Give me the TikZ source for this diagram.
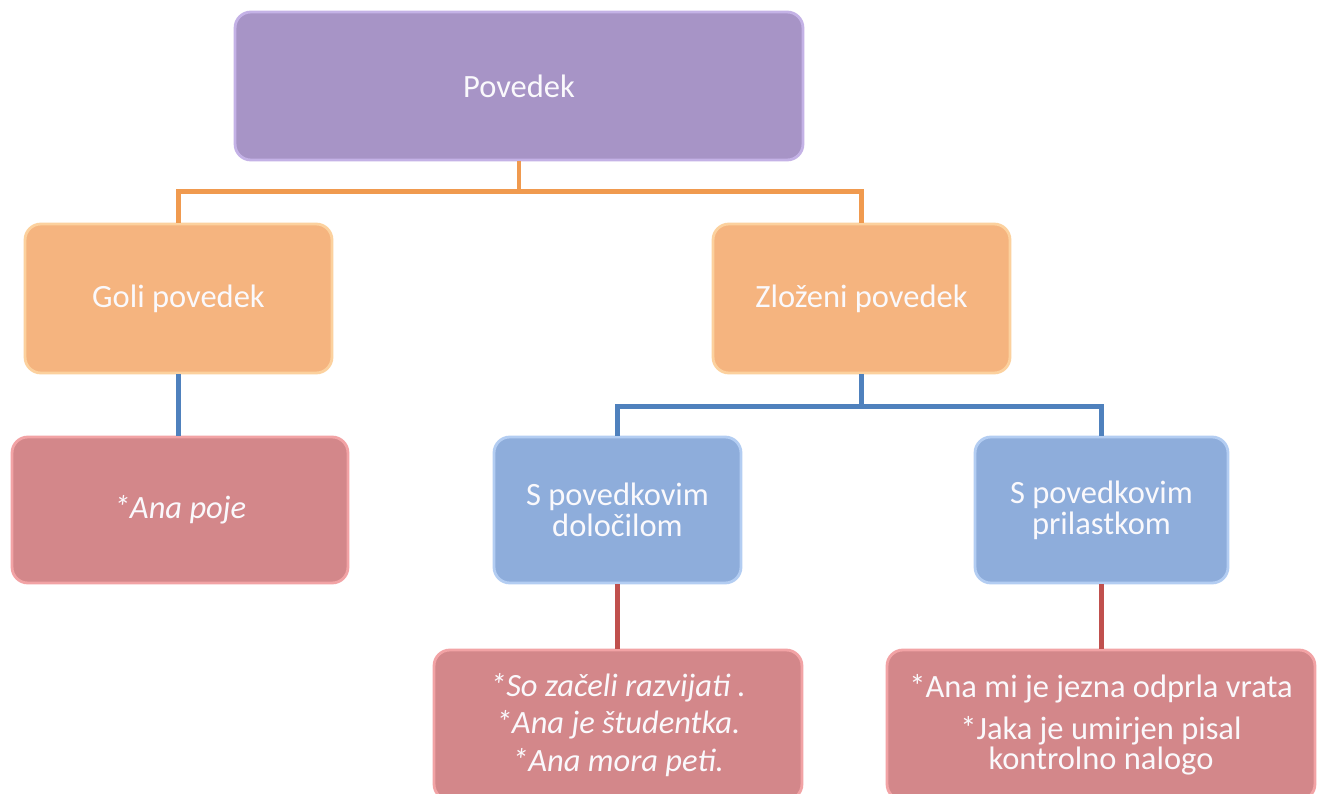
\documentclass[tikz,border=0pt]{standalone}
\usepackage{fontspec}
\setmainfont{Carlito}
\definecolor{purplefill}{HTML}{A794C6}
\definecolor{purpleedge}{HTML}{C4B2E6}
\definecolor{orangefill}{HTML}{F5B47F}
\definecolor{orangeedge}{HTML}{FCD19E}
\definecolor{pinkfill}{HTML}{D3878A}
\definecolor{pinkedge}{HTML}{F2A3A5}
\definecolor{bluefill}{HTML}{8EADDB}
\definecolor{blueedge}{HTML}{B3CDF2}
\definecolor{orangeline}{HTML}{F09A4F}
\definecolor{blueline}{HTML}{4F81BD}
\definecolor{redline}{HTML}{C0504D}
\tikzset{
  card/.style={draw, line width=1.6pt, rounded corners=9pt, align=center, inner sep=0pt,
    font=\fontsize{18.5}{17.5}\selectfont, text=white!94!purplefill},
  topcard/.style={card, fill=purplefill, draw=purpleedge},
  orangecard/.style={card, fill=orangefill, draw=orangeedge, minimum height=2.98cm},
  bluecard/.style={card, fill=bluefill, draw=blueedge, minimum height=2.92cm},
  pinkcard/.style={card, fill=pinkfill, draw=pinkedge},
  link/.style={line width=2.6pt}
}
\begin{document}
\begin{tikzpicture}[x=0.02cm,y=-0.02cm]
  \useasboundingbox (0,0) rectangle (1323,794);
  \clip (0,0) rectangle (1323,794);
  \fill[white] (0,0) rectangle (1323,794);
  % the boxes
  \node[topcard, minimum width=11.36cm, minimum height=2.96cm] (povedek) at (519,86) {Povedek};
  \node[orangecard, minimum width=6.14cm] (goli) at (178.5,298.5) {Goli povedek};
  \node[orangecard, minimum width=5.94cm] (zlozeni) at (861.5,298.5) {Zloženi povedek};
  \node[pinkcard, minimum width=6.72cm, minimum height=2.92cm] (anapoje) at (180,510) {\itshape *Ana poje};
  \node[bluecard, minimum width=4.94cm] (dolocilo) at (617.5,510) {S povedkovim\\določilom};
  \node[bluecard, minimum width=5.06cm] (prilastek) at (1101.5,510) {S povedkovim\\prilastkom};
  \node[pinkcard, minimum width=7.36cm, minimum height=3.0cm] (primeri1) at (618,725)
    {\itshape *So začeli razvijati .\\[4pt] \itshape *Ana je študentka.\\[4pt] \itshape *Ana mora peti.};
  \node[pinkcard, minimum width=8.56cm, minimum height=3.0cm] (primeri2) at (1101,725)
    {*Ana mi je jezna odprla vrata\\[6pt] *Jaka je umirjen pisal\\ kontrolno nalogo};
  % the connectors
  \draw[link, orangeline] (povedek.south) -- ++(0,30) -| (goli.north);
  \draw[link, orangeline] (povedek.south) -- ++(0,30) -| (zlozeni.north);
  \draw[link, blueline] (goli.south) -- (goli.south |- anapoje.north);
  \draw[link, blueline] (zlozeni.south) -- ++(0,32) -| (dolocilo.north);
  \draw[link, blueline] (zlozeni.south) -- ++(0,32) -| (prilastek.north);
  \draw[link, redline] (dolocilo.south) -- (dolocilo.south |- primeri1.north);
  \draw[link, redline] (prilastek.south) -- (prilastek.south |- primeri2.north);
\end{tikzpicture}
\end{document}
